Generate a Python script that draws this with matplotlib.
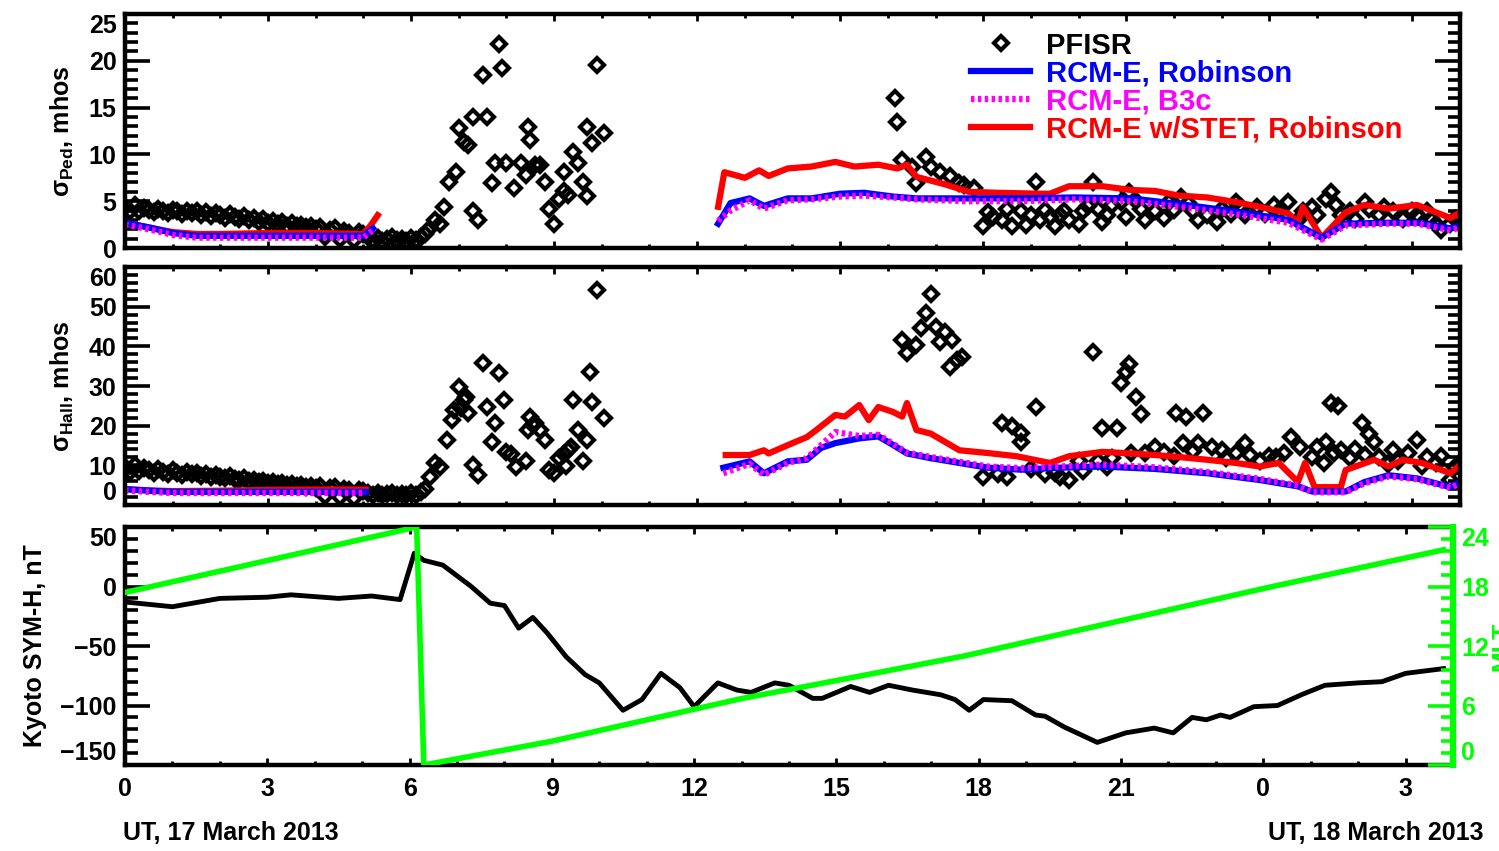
import matplotlib
matplotlib.use('Agg')
import matplotlib.pyplot as plt
from matplotlib.ticker import FixedLocator, MultipleLocator
from matplotlib.lines import Line2D

plt.rcParams['font.family'] = ['Liberation Sans', 'DejaVu Sans']
plt.rcParams['font.weight'] = 'bold'
plt.rcParams['axes.labelweight'] = 'bold'
plt.rcParams['mathtext.fontset'] = 'custom'
plt.rcParams['mathtext.rm'] = 'Liberation Sans:bold'
plt.rcParams['mathtext.it'] = 'Liberation Sans:bold'
plt.rcParams['mathtext.bf'] = 'Liberation Sans:bold'

BLUE = '#0000ff'
MAG = '#ff00ff'
RED = '#ff0000'
GREEN = '#00ff00'

# ---------------- data (UT hours from 0 UT 17 March 2013) ----------------
# PFISR Pedersen conductance
ped_t_dense = [0.0, 0.1, 0.2, 0.3, 0.4, 0.5, 0.6, 0.7, 0.8, 0.9, 1.0, 1.1, 1.2, 1.3, 1.4, 1.5,
               1.6, 1.7, 1.8, 1.9, 2.0, 2.1, 2.2, 2.3, 2.4, 2.5, 2.6, 2.7, 2.8, 2.9, 3.0, 3.1,
               3.2, 3.3, 3.4, 3.5, 3.6, 3.7, 3.8, 3.9, 4.0, 4.1, 4.2, 4.3, 4.4, 4.5, 4.6, 4.7,
               4.8, 4.9, 5.0, 5.1, 5.2, 5.3, 5.4, 5.5, 5.6, 5.7, 5.8, 5.9, 6.0, 6.1, 6.2, 6.3]
ped_v_dense = [4.4, 4.0, 4.6, 3.9, 4.3, 4.1, 3.8, 4.2, 4.0, 3.7, 4.1, 3.9, 3.6, 4.0, 3.7, 3.9,
               3.5, 3.8, 3.4, 3.7, 3.5, 3.2, 3.6, 3.3, 3.1, 3.4, 3.0, 3.2, 2.8, 3.1, 2.7, 2.9,
               2.6, 2.8, 2.4, 2.7, 2.3, 2.5, 2.2, 2.4, 2.0, 2.2, 1.2, 1.9, 2.1, 1.0, 1.8, 1.6,
               0.9, 1.7, 1.5, 1.2, 0.9, 1.1, 0.8, 1.0, 1.2, 0.9, 1.0, 0.8, 1.1, 0.9, 1.2, 1.5]
ped_t_scat = [6.35, 6.5, 6.6, 6.7, 6.8, 6.95, 7.0, 7.1, 7.2, 7.3, 7.3, 7.4, 7.5, 7.6, 7.7, 7.75,
              7.85, 7.9, 8.0, 8.15, 8.3, 8.4, 8.45, 8.5, 8.6, 8.7, 8.8, 8.9, 9.0, 9.1, 9.2, 9.2,
              9.3, 9.4, 9.5, 9.6, 9.7, 9.7, 9.8, 9.9, 10.05,
              16.15, 16.2, 16.3, 16.5, 16.6, 16.8, 16.9, 17.1, 17.3, 17.5, 17.6, 17.8, 18.0, 18.2,
              18.4, 18.6, 18.8, 19.0, 19.1, 19.2, 19.4, 19.6, 19.8, 20.1, 20.3, 20.4, 20.6, 20.9,
              21.05, 21.3, 21.6, 21.9, 22.15, 22.4, 22.7, 23.0, 23.3, 23.5, 23.75, 24.1, 24.4,
              24.7, 25.0, 25.3, 25.4, 25.5, 25.7, 26.0, 26.3, 26.6, 27.1, 27.4, 27.6, 27.8,
              18.1, 18.5, 18.9, 19.3, 19.5, 19.7, 20.0, 20.2, 20.5, 20.7, 21.0, 21.2, 21.4, 21.8,
              22.0, 22.3, 22.5, 22.9, 23.2, 23.4, 23.9, 24.2, 24.6, 24.9, 25.2, 25.8, 26.1, 26.4,
              26.8, 27.0, 27.3, 27.5, 27.9]
ped_v_scat = [1.9, 3.0, 2.6, 4.4, 7.0, 8.1, 12.8, 11.3, 11.0, 14.0, 4.0, 3.0, 18.5, 14.0, 6.9, 9.1,
              21.8, 19.2, 9.1, 6.4, 9.1, 7.8, 12.9, 11.5, 8.9, 8.9, 7.0, 4.2, 2.6, 5.2, 8.1, 6.1,
              5.7, 10.3, 9.1, 7.0, 5.6, 12.9, 11.2, 19.5, 12.3,
              16.0, 13.5, 9.4, 8.7, 6.9, 9.7, 8.7, 8.1, 7.7, 6.9, 6.7, 6.4, 2.3, 3.3,
              3.0, 2.3, 3.9, 3.5, 7.0, 3.0, 3.3, 3.5, 3.0, 3.9, 7.0, 4.2, 3.5, 4.9,
              6.0, 4.2, 3.9, 4.9, 5.5, 3.9, 3.5, 4.2, 4.9, 3.5, 4.4, 4.6, 4.9,
              4.0, 3.5, 6.0, 4.6, 3.5, 4.0, 4.9, 3.5, 3.9, 3.5, 3.1, 1.9, 2.6,
              3.8, 4.2, 2.5, 4.1, 2.4, 4.0, 2.6, 4.5, 2.8, 4.6, 3.3, 5.0, 3.0, 3.2,
              4.1, 4.8, 3.0, 2.8, 3.6, 4.4, 3.6, 3.9, 3.0, 4.4, 5.2, 3.1, 4.2, 4.4,
              3.1, 4.0, 3.9, 2.6, 3.1]

# RCM-E Pedersen
ped_rob_t1 = [0.0, 0.5, 1.0, 1.5, 2.0, 3.0, 4.0, 5.0, 5.2]
ped_rob_v1 = [2.7, 2.2, 1.6, 1.3, 1.3, 1.3, 1.3, 1.3, 2.1]
ped_b3c_v1 = [2.5, 2.0, 1.4, 1.1, 1.1, 1.1, 1.1, 1.1, 1.9]
ped_stet_t1 = [0.0, 0.5, 1.0, 1.5, 2.0, 3.0, 4.0, 5.0, 5.15, 5.3]
ped_stet_v1 = [2.7, 2.2, 1.7, 1.5, 1.5, 1.6, 1.6, 1.5, 2.4, 3.5]
ped_rob_t2 = [12.44, 12.7, 13.1, 13.4, 13.9, 14.4, 15.0, 15.5, 16.1, 16.6, 17.7, 18.8, 19.9,
              21.1, 22.1, 23.3, 24.4, 25.1, 25.6, 26.5, 27.1, 27.8, 28.0]
ped_rob_v2 = [2.6, 4.8, 5.3, 4.5, 5.3, 5.3, 5.8, 5.9, 5.5, 5.3, 5.3, 5.3, 5.4,
              5.3, 4.7, 3.9, 3.0, 1.1, 2.6, 2.7, 2.7, 2.1, 2.4]
ped_b3c_v2 = [2.9, 4.0, 5.1, 4.2, 5.1, 5.2, 5.5, 5.6, 5.4, 5.2, 5.0, 5.0, 5.2,
              5.0, 4.4, 3.6, 2.7, 0.9, 2.4, 2.6, 2.6, 1.9, 2.2]
ped_stet_t2 = [12.44, 12.57, 13.0, 13.3, 13.5, 13.9, 14.4, 14.9, 15.3, 15.8, 16.2, 16.4, 16.6,
               17.2, 17.7, 18.3, 19.2, 19.4, 19.8, 20.5, 21.1, 21.6, 22.1, 22.7, 23.3, 23.8,
               24.4, 24.6, 24.7, 25.1, 25.6, 26.0, 26.5, 27.1, 27.8, 28.0]
ped_stet_v2 = [4.4, 8.1, 7.5, 8.3, 7.7, 8.5, 8.7, 9.2, 8.7, 8.9, 8.5, 8.9, 7.6,
               6.8, 6.0, 5.9, 5.8, 5.8, 6.6, 6.6, 6.2, 6.1, 5.6, 5.4, 4.9, 4.4,
               3.7, 2.7, 4.4, 1.1, 3.8, 4.6, 4.2, 4.6, 3.2, 3.8]

# PFISR Hall conductance
hall_t_dense = ped_t_dense
hall_v_dense = [9.6, 8.2, 10.0, 8.6, 9.3, 8.9, 8.0, 9.0, 8.4, 7.9, 8.7, 8.1, 7.6, 8.2, 7.7, 8.0,
                7.3, 7.7, 7.0, 7.5, 7.1, 6.7, 7.2, 6.5, 6.3, 6.8, 6.1, 6.4, 5.8, 6.1, 5.6, 5.9,
                5.3, 5.6, 5.0, 5.4, 4.8, 5.1, 4.6, 4.9, 4.3, 4.7, 2.2, 4.3, 4.5, 2.0, 4.0, 3.7,
                1.8, 3.8, 3.5, 2.9, 2.6, 2.9, 2.4, 2.8, 3.1, 2.5, 2.8, 2.4, 2.9, 2.6, 3.2, 4.0]
hall_t_scat = [6.4, 6.5, 6.6, 6.75, 6.85, 6.9, 7.0, 7.1, 7.2, 7.3, 7.4, 7.5, 7.6, 7.7, 7.75, 7.85,
               7.95, 8.0, 8.1, 8.2, 8.4, 8.45, 8.5, 8.6, 8.7, 8.8, 8.9, 9.0, 9.2, 9.3, 9.35, 9.4,
               9.5, 9.6, 9.7, 9.75, 9.8, 9.9, 10.05, 7.05, 7.15, 8.55, 9.1, 9.25,
               16.3, 16.4, 16.6, 16.7, 16.8, 16.9, 17.0, 17.1, 17.2, 17.35, 17.3, 17.45, 17.55,
               18.0, 18.3, 18.5, 18.4, 18.6, 18.8, 18.8, 19.1, 19.3, 19.6, 19.8, 20.0, 20.3,
               20.5, 20.8, 20.9, 21.0, 21.05, 21.2, 21.3, 20.4, 20.6, 21.4, 21.6, 22.05, 22.25,
               22.6, 22.2, 22.5, 22.8, 23.3, 23.5, 23.8, 24.15, 24.45, 24.65, 24.9, 25.15, 25.3,
               25.45, 25.2, 25.35, 25.5, 25.95, 26.1, 26.2, 26.3, 26.6, 26.7, 27.1, 27.3, 27.5,
               27.8, 28.0,
               19.0, 19.5, 20.1, 20.7, 21.1, 21.8, 22.0, 22.4, 23.0, 23.1, 23.6, 24.0, 24.3,
               25.0, 25.7, 25.8, 26.0, 26.5, 26.9, 27.2, 27.6, 27.9]
hall_v_scat = [7.0, 10.6, 9.7, 16.4, 21.4, 23.9, 29.7, 26.4, 23.2, 10.0, 7.5, 35.8, 24.7, 15.9, 20.7, 33.3,
               26.4, 13.4, 12.9, 9.6, 11.2, 18.9, 22.2, 20.7, 18.9, 16.4, 8.8, 8.0, 12.9, 13.8, 14.6, 26.4,
               18.9, 11.2, 16.4, 33.5, 26.0, 54.2, 22.0, 24.4, 27.2, 20.2, 11.8, 9.9,
               41.6, 38.3, 40.4, 44.5, 48.4, 53.3, 44.9, 41.0, 43.6, 41.6, 34.7, 36.5, 37.3,
               7.0, 7.8, 7.0, 20.7, 19.9, 18.2, 15.8, 24.7, 7.7, 7.0, 6.2, 11.2, 38.6,
               19.4, 19.4, 30.7, 33.5, 35.6, 27.2, 23.0, 11.2, 9.7, 13.0, 14.6, 23.2, 22.3,
               23.2, 15.6, 15.6, 14.6, 13.0, 15.6, 11.2, 12.1, 17.1, 14.6, 12.1, 10.6, 25.7,
               24.9, 15.9, 13.0, 13.8, 20.7, 18.0, 15.9, 12.1, 13.8, 11.2, 16.4, 12.1, 10.6,
               6.2, 10.6,
               9.0, 8.1, 8.5, 11.8, 13.2, 13.4, 12.3, 13.7, 13.9, 11.8, 12.7, 12.4, 13.2,
               14.6, 11.8, 14.1, 12.7, 10.4, 13.2, 9.9, 12.3, 9.5]

# RCM-E Hall
hall_rob_t1 = [0.0, 0.5, 1.0, 2.0, 3.0, 4.0, 5.0, 5.05]
hall_rob_v1 = [4.0, 3.6, 3.3, 3.3, 3.3, 3.3, 3.3, 3.3]
hall_b3c_v1 = [3.7, 3.3, 3.0, 3.0, 3.0, 3.0, 3.0, 3.0]
hall_stet_v1 = [4.0, 3.7, 3.5, 3.6, 3.8, 3.9, 3.9, 3.9]
hall_rob_t2 = [12.55, 13.1, 13.4, 13.9, 14.3, 14.6, 14.9, 15.4, 15.8, 16.1, 16.4, 16.9, 17.5,
               18.1, 18.8, 19.6, 20.5, 21.6, 22.7, 23.8, 24.6, 24.9, 25.6, 26.0, 26.5, 27.1,
               27.8, 28.0]
hall_rob_v2 = [9.4, 11.0, 8.0, 11.0, 11.4, 14.4, 15.6, 16.8, 17.3, 15.2, 13.0, 11.8, 10.6,
               9.4, 8.9, 9.4, 9.7, 9.1, 8.0, 6.3, 4.7, 3.4, 3.4, 5.8, 7.5, 6.7, 4.5, 5.8]
hall_b3c_v2 = [8.0, 10.4, 7.6, 10.6, 11.8, 15.1, 18.4, 17.4, 17.7, 15.5, 13.2, 12.1, 10.9,
               9.7, 9.3, 9.7, 10.2, 9.5, 8.3, 6.6, 4.9, 3.2, 3.2, 5.5, 7.2, 6.5, 4.3, 5.5]
hall_stet_t2 = [12.6, 13.1, 13.4, 13.5, 14.0, 14.3, 14.5, 14.9, 15.1, 15.4, 15.6, 15.8, 16.1,
                16.3, 16.4, 16.6, 16.9, 17.2, 17.5, 18.1, 18.7, 19.4, 19.8, 20.5, 21.1, 21.6,
                22.1, 22.7, 23.3, 23.8, 24.2, 24.6, 24.75, 24.95, 25.5, 25.6, 26.2, 26.5,
                26.8, 27.2, 27.8, 28.0]
hall_stet_v2 = [12.6, 12.6, 13.8, 13.0, 15.6, 17.1, 18.9, 22.7, 22.3, 25.2, 21.4, 24.7, 23.5,
                22.3, 25.7, 18.9, 18.0, 15.9, 13.8, 13.1, 12.3, 10.6, 12.3, 13.4, 13.0, 12.6,
                12.1, 11.4, 10.6, 9.7, 10.6, 5.8, 10.6, 4.5, 4.5, 8.8, 11.4, 9.7,
                11.4, 10.6, 8.0, 10.1]

# Kyoto SYM-H
symh_t = [0.0, 1.0, 2.0, 3.0, 3.5, 4.5, 5.2, 5.8, 6.1, 6.3, 6.7, 7.3, 7.7, 8.0, 8.3, 8.6, 8.9,
          9.3, 9.7, 10.0, 10.5, 10.9, 11.3, 11.7, 12.0, 12.5, 12.9, 13.2, 13.7, 14.0, 14.5,
          14.7, 15.3, 15.7, 16.1, 16.6, 17.2, 17.5, 17.8, 18.1, 18.7, 19.2, 19.4, 19.8, 20.5,
          21.1, 21.7, 22.1, 22.5, 22.8, 23.1, 23.3, 23.8, 24.3, 24.8, 25.3, 26.0, 26.5, 27.0,
          27.8]
symh_v = [-13, -17, -10, -9, -7, -10, -8, -11, 28, 22, 18, 0, -14, -16, -35, -26, -39,
          -59, -74, -81, -104, -95, -73, -85, -101, -81, -87, -89, -81, -83, -94,
          -94, -84, -89, -83, -87, -91, -95, -104, -95, -96, -108, -109, -118, -131,
          -123, -119, -123, -110, -112, -108, -110, -101, -100, -91, -83, -81, -80, -73,
          -69]

# MLT of PFISR
mlt_t = [0.0, 6.15, 6.3, 9.0, 13.0, 15.2, 17.7, 20.2, 24.1, 27.8]
mlt_v = [17.4, 24.0, 0.0, 2.4, 6.7, 8.7, 11.0, 13.7, 17.9, 21.7]

xtick_pos = [0, 3, 6, 9, 12, 15, 18, 21, 24, 27]
xtick_labels = ['0', '3', '6', '9', '12', '15', '18', '21', '0', '3']

# ---------------- figure ----------------
W, H = 1499, 851
fig = plt.figure(figsize=(W / 100, H / 100), dpi=100)


def box(left, top, right, bottom):
    return [left / W, 1 - bottom / H, (right - left) / W, (bottom - top) / H]


ax1 = fig.add_axes(box(125, 14, 1460, 248))
ax2 = fig.add_axes(box(125, 267, 1460, 505))
ax3 = fig.add_axes(box(125, 527, 1453, 765))

FS = 18
mk = dict(linestyle='none', marker='D', markersize=7.5, markerfacecolor='none',
          markeredgecolor='black', markeredgewidth=3.0)
lw = 4.5
dot = (0, (0.55, 0.55))


def style(ax, ymaj, ymin, ylim, left_ticks=True, right_ticks=True):
    ax.set_xlim(0, 28)
    ax.set_ylim(*ylim)
    ax.xaxis.set_major_locator(FixedLocator(xtick_pos))
    ax.xaxis.set_minor_locator(MultipleLocator(1))
    ax.yaxis.set_major_locator(MultipleLocator(ymaj))
    ax.yaxis.set_minor_locator(MultipleLocator(ymin))
    for s in ax.spines.values():
        s.set_linewidth(3.2)
    ax.tick_params(axis='x', which='major', direction='in', length=5, width=2,
                   top=True, bottom=True, labelsize=FS, pad=9)
    ax.tick_params(axis='x', which='minor', direction='in', length=3, width=2,
                   top=True, bottom=True)
    ax.tick_params(axis='y', which='major', direction='in', length=18, width=2.6,
                   left=left_ticks, right=right_ticks, labelsize=FS, pad=6)
    ax.tick_params(axis='y', which='minor', direction='in', length=9, width=2.6,
                   left=left_ticks, right=right_ticks)


# ---- panel 1: Pedersen ----
ax1.plot(ped_t_dense, ped_v_dense, **mk)
ax1.plot(ped_t_scat, ped_v_scat, **mk)
ax1.plot(ped_stet_t1, ped_stet_v1, color=RED, lw=lw)
ax1.plot(ped_rob_t1, ped_rob_v1, color=BLUE, lw=lw)
ax1.plot(ped_rob_t1, ped_b3c_v1, color=MAG, lw=lw, linestyle=dot)
ax1.plot(ped_stet_t2, ped_stet_v2, color=RED, lw=lw)
ax1.plot(ped_rob_t2, ped_rob_v2, color=BLUE, lw=lw)
ax1.plot(ped_rob_t2, ped_b3c_v2, color=MAG, lw=lw, linestyle=dot)
style(ax1, 5, 1, (0, 25))
ax1.tick_params(axis='x', labelbottom=False)
ax1.set_ylabel(r'$\sigma_{\rm Ped}$, mhos', fontsize=FS)
ax1.yaxis.set_label_coords(-0.037, 0.5)

handles = [Line2D([], [], **mk),
           Line2D([], [], color=BLUE, lw=lw),
           Line2D([], [], color=MAG, lw=lw, linestyle=dot),
           Line2D([], [], color=RED, lw=lw)]
names = ['PFISR', 'RCM-E, Robinson', 'RCM-E, B3c', 'RCM-E w/STET, Robinson']
leg = ax1.legend(handles, names, loc='upper left', bbox_to_anchor=(0.634, 0.925),
                 frameon=False, fontsize=21, handlelength=2.0, handletextpad=0.55,
                 labelspacing=0.0, borderpad=0, borderaxespad=0)
for txt, c in zip(leg.get_texts(), ['black', BLUE, MAG, RED]):
    txt.set_color(c)

# ---- panel 2: Hall ----
ax2.plot(hall_t_dense, hall_v_dense, **mk)
ax2.plot(hall_t_scat, hall_v_scat, **mk)
ax2.plot(hall_rob_t1, hall_stet_v1, color=RED, lw=lw)
ax2.plot(hall_rob_t1, hall_rob_v1, color=BLUE, lw=lw)
ax2.plot(hall_rob_t1, hall_b3c_v1, color=MAG, lw=lw, linestyle=dot)
ax2.plot(hall_stet_t2, hall_stet_v2, color=RED, lw=lw)
ax2.plot(hall_rob_t2, hall_rob_v2, color=BLUE, lw=lw)
ax2.plot(hall_rob_t2, hall_b3c_v2, color=MAG, lw=lw, linestyle=dot)
style(ax2, 10, 2, (0, 60))
ax2.tick_params(axis='x', labelbottom=False)
ax2.set_ylabel(r'$\sigma_{\rm Hall}$, mhos', fontsize=FS)
ax2.yaxis.set_label_coords(-0.037, 0.5)

# ---- panel 3: SYM-H and MLT ----
ax3.plot(symh_t, symh_v, color='black', lw=3.5)
style(ax3, 50, 10, (-150, 50), right_ticks=False)
ax3.xaxis.set_major_formatter(plt.FixedFormatter(xtick_labels))
ax3.set_ylabel('Kyoto SYM-H, nT', fontsize=FS)
ax3.yaxis.set_label_coords(-0.0585, 0.5)

ax3r = ax3.twinx()
ax3r.plot(mlt_t, mlt_v, color=GREEN, lw=4)
ax3r.set_ylim(0, 24)
ax3r.yaxis.set_major_locator(MultipleLocator(6))
ax3r.yaxis.set_minor_locator(MultipleLocator(1.2))
ax3r.spines['right'].set_color(GREEN)
ax3r.spines['right'].set_linewidth(4.5)
for s in ['left', 'top', 'bottom']:
    ax3r.spines[s].set_visible(False)
ax3r.tick_params(axis='y', which='major', direction='in', length=18, width=2.6,
                 color=GREEN, labelcolor=GREEN, labelsize=FS, pad=6)
ax3r.tick_params(axis='y', which='minor', direction='in', length=9, width=2.6,
                 color=GREEN)
fig.text(1490 / W, 1 - 646 / H, 'MLT', color=GREEN, fontsize=FS, rotation=90,
         ha='left', va='center')

fig.text(123 / W, 1 - 833 / H, 'UT, 17 March 2013', fontsize=FS, ha='left', va='center')
fig.text(1483 / W, 1 - 833 / H, 'UT, 18 March 2013', fontsize=FS, ha='right', va='center')

# labels at the ends of each y axis sit inside the axis range
fig.canvas.draw()
for ax in [ax1, ax2, ax3, ax3r]:
    ticks = ax.yaxis.get_major_ticks()
    lo, hi = ax.get_ylim()
    locs = ax.yaxis.get_majorticklocs()
    for tk, loc in zip(ticks, locs):
        if abs(loc - lo) < 1e-6 and ax is not ax1:
            tk.label1.set_va('bottom')
            tk.label2.set_va('bottom')
        elif abs(loc - hi) < 1e-6:
            tk.label1.set_va('top')
            tk.label2.set_va('top')

fig.savefig('out.png', dpi=100)
